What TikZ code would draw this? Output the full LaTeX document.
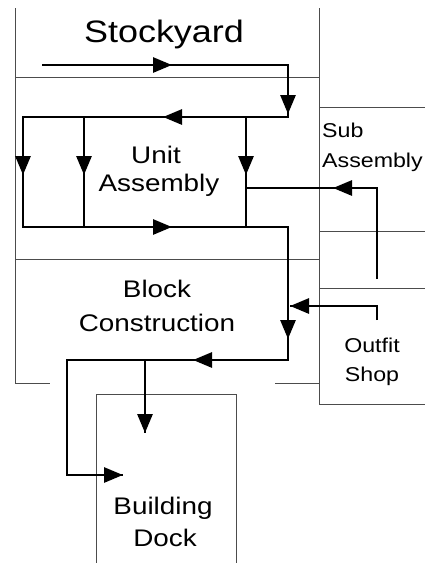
\documentclass[tikz,border=0pt]{standalone}
\usepackage{fontspec}
\setmainfont{Liberation Sans}[FakeStretch=1.16]
\usetikzlibrary{arrows.meta}
\tikzset{
  wall/.style={draw=black!70, line width=0.9pt},
  flow/.style={draw=black, line width=2.8pt, line join=miter},
  head/.style={draw=black, line width=2.8pt, -{Triangle[length=19pt,width=15pt]}},
  txt/.style={inner sep=0pt, anchor=base},
  big/.style={font=\fontsize{31}{36}\selectfont},
  mid/.style={font=\fontsize{24}{28}\selectfont},
  sml/.style={font=\fontsize{20}{24}\selectfont},
}
\begin{document}
\begin{tikzpicture}[x=1pt,y=-1pt]
\useasboundingbox (0,0) rectangle (425,563);
% thin walls
\draw[wall] (15,8) -- (15,383) -- (50,383);
\draw[wall] (319,8) -- (319,404) -- (425,404);
\draw[wall] (15,77) -- (319,77);
\draw[wall] (15,259) -- (319,259);
\draw[wall] (275,383) -- (319,383);
\draw[wall] (319,107) -- (425,107);
\draw[wall] (319,231) -- (425,231);
\draw[wall] (319,288) -- (425,288);
\draw[wall] (96,563) -- (96,394) -- (236,394) -- (236,563);
% labels
\node[txt,big] (stock) at (164,42) {Stockyard};
\node[txt,mid] (unitA) at (156,163) {Unit};
\node[txt,mid] (unitB) at (159,191) {Assembly};
\node[txt,sml,anchor=base west] (subA) at (322,137) {Sub};
\node[txt,sml,anchor=base west] (subB) at (322,167) {Assembly};
\node[txt,mid] (blockA) at (157,297) {Block};
\node[txt,mid] (blockB) at (157,331) {Construction};
\node[txt,sml] (outA) at (372,352) {Outfit};
\node[txt,sml] (outB) at (372,381) {Shop};
\node[txt,mid] (dockA) at (163,514) {Building};
\node[txt,mid] (dockB) at (165,546) {Dock};
% flow coordinates
\coordinate (s0) at (42,65);
\coordinate (s1) at (288,65);
\coordinate (u0) at (288,117);
\coordinate (u1) at (23,117);
\coordinate (u2) at (84,117);
\coordinate (u3) at (246,117);
\coordinate (b1) at (23,227);
\coordinate (b2) at (84,227);
\coordinate (b3) at (246,227);
\coordinate (b0) at (288,227);
\coordinate (c0) at (288,360);
\coordinate (c1) at (67,360);
\coordinate (c2) at (145,360);
\coordinate (d0) at (67,475);
\coordinate (d1) at (123,475);
\coordinate (d2) at (145,433);
\coordinate (p0) at (377,279);
\coordinate (p1) at (377,188);
\coordinate (p2) at (246,188);
\coordinate (o0) at (377,320);
\coordinate (o1) at (377,306);
\coordinate (o2) at (290,306);
% flow lines
\draw[flow] (s0) -- (s1) -- (u0) -- (u1) -- (b1) -- (b0) -- (c0) -- (c1) -- (d0) -- (d1);
\draw[flow] (u2) -- (b2);
\draw[flow] (u3) -- (b3);
\draw[flow] (c2) -- (d2);
\draw[flow] (p0) -- (p1) -- (p2);
\draw[flow] (o0) -- (o1) -- (o2);
% arrowheads
\draw[head] (140,65) -- (172,65);
\draw[head] (288,80) -- (288,114);
\draw[head] (200,117) -- (163,117);
\draw[head] (23,140) -- (23,175);
\draw[head] (84,140) -- (84,175);
\draw[head] (246,140) -- (246,175);
\draw[head] (140,227) -- (172,227);
\draw[head] (288,300) -- (288,339);
\draw[head] (230,360) -- (193,360);
\draw[head] (365,188) -- (333,188);
\draw[head] (320,306) -- (o2);
\draw[head] (90,475) -- (d1);
\draw[head] (145,395) -- (d2);
\end{tikzpicture}
\end{document}
